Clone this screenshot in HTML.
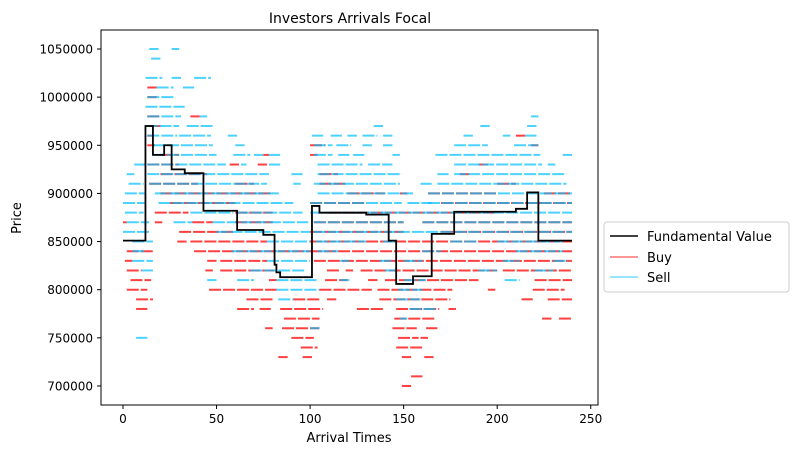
<!DOCTYPE html>
<html><head><meta charset="utf-8">
<style>
body{margin:0;background:#fff;width:798px;height:455px;overflow:hidden;font-family:"Liberation Sans","DejaVu Sans",sans-serif;}
svg text{font-family:"DejaVu Sans","Liberation Sans",sans-serif;}
</style></head>
<body>
<svg id="chart" width="798" height="455" xmlns="http://www.w3.org/2000/svg">
<text x="350" y="23" font-size="14" text-anchor="middle" fill="#000">Investors Arrivals Focal</text>
<g id="marks"></g>
<rect x="101" y="30" width="497" height="375" fill="none" stroke="#000" stroke-width="1"/>
<g id="axes"></g>
<text x="349" y="442" font-size="13" text-anchor="middle">Arrival Times</text>
<text x="21" y="218" font-size="13" text-anchor="middle" transform="rotate(-90 21 218)">Price</text>
<g>
<rect x="604" y="222" width="185" height="70" rx="3" fill="#fff" stroke="#ccc"/>
<line x1="610" y1="236" x2="638" y2="236" stroke="#000" stroke-width="1.6"/>
<text x="647" y="241" font-size="13">Fundamental Value</text>
<line x1="610" y1="257" x2="638" y2="257" stroke="#f00" stroke-opacity="0.55" stroke-width="1.4"/>
<text x="647" y="262" font-size="13">Buy</text>
<line x1="610" y1="277" x2="638" y2="277" stroke="#00bfff" stroke-opacity="0.55" stroke-width="1.4"/>
<text x="647" y="282" font-size="13">Sell</text>
</g>
</svg>
<script>
const xTicks=[0,50,100,150,200,250];
const yTicks=[700000,750000,800000,850000,900000,950000,1000000,1050000];
const fvTimes=[0,12,16,22,26,33,43,61,75,81,82,84,101,105,130,142,146,155,165,177,210,216,222,240];
const fvValues=[851000,970000,940000,950000,925000,921000,882000,862000,857000,826000,818000,813000,887000,880000,878000,851000,806000,814000,858000,881000,884000,901000,851000,851000];
const levels=[1050000,1040000,1020000,1010000,1000000,990000,980000,970000,960000,950000,940000,930000,920000,910000,900000,890000,880000,870000,860000,850000,840000,830000,820000,810000,800000,790000,780000,770000,760000,750000,740000,730000,710000,700000];
const sellRanges=[
[[14,19],[26,30]],
[[15,20]],
[[12,21],[26,31],[38,47]],
[[18,27],[32,38]],
[[13,28]],
[[12,33]],
[[13,31],[41,45],[218,222]],
[[12,30],[34,48],[134,139],[191,196],[216,221]],
[[13,29],[30,47],[56,61],[101,107],[111,117],[120,125],[128,136],[139,144],[182,187],[203,207],[215,221]],
[[16,48],[60,65],[102,112],[114,122],[128,133],[139,144],[177,195],[209,222]],
[[16,50],[59,68],[70,75],[78,84],[102,112],[115,121],[123,129],[144,148],[167,223],[235,240]],
[[6,12],[13,55],[63,66],[78,84],[104,128],[131,144],[177,224],[227,231]],
[[2,6],[13,78],[90,96],[104,149],[168,174],[177,237]],
[[3,11],[14,77],[91,95],[102,148],[159,165],[168,237]],
[[1,12],[17,84],[104,155],[163,240]],
[[0,12],[19,91],[100,149],[152,165],[163,240]],
[[1,11],[36,59],[61,96],[100,240]],
[[2,14],[27,37],[48,99],[102,150],[160,240]],
[[0,15],[50,100],[102,240]],
[[5,16],[77,100],[103,130],[139,146],[175,190],[200,235]],
[[5,12],[58,100],[104,115],[160,170],[210,235]],
[[5,16],[77,100],[116,121],[137,144],[150,160],[203,212],[230,238]],
[[10,16],[68,98],[140,147],[190,200],[220,230]],
[[45,50],[61,70],[82,104],[116,121],[150,162],[204,212]],
[[82,105],[147,160]],
[[83,91],[146,159]],
[[153,168]],
[[148,152]],
[[100,105]],
[[7,13]],
[],[],[],[]
];
const buyRanges=[
[],[],[],
[[13,18]],
[[13,18]],
[],
[[13,20],[36,41]],
[[14,20]],
[[13,16],[210,215]],
[[13,17],[100,108],[218,222]],
[[20,30],[75,78],[100,104]],
[[13,30],[57,62],[72,77],[190,195]],
[[20,45],[105,115],[180,185]],
[[14,40],[60,70],[105,120],[200,210]],
[[20,80],[120,140],[148,152],[163,200],[225,240]],
[[25,60],[100,130],[170,240]],
[[17,35],[60,80],[110,200]],
[[0,2],[17,21],[37,48],[60,80],[102,150],[160,240]],
[[30,60],[100,150],[170,240]],
[[29,34],[36,77],[100,240]],
[[2,16],[38,100],[100,240]],
[[1,5],[45,50],[52,77],[102,240]],
[[2,10],[44,48],[52,82],[109,116],[119,123],[127,200],[203,240]],
[[4,15],[78,82],[108,120],[131,136],[140,190],[220,240]],
[[2,13],[46,82],[105,133],[136,176],[195,199],[219,236]],
[[7,16],[66,80],[91,105],[109,114],[137,175],[213,219],[227,240]],
[[7,13],[61,70],[73,79],[84,107],[125,139],[146,169],[174,178]],
[[86,105],[145,167],[224,229],[233,240]],
[[76,80],[85,105],[144,157],[162,168]],
[[90,102],[147,158],[159,163]],
[[95,104],[146,160]],
[[83,88],[96,101],[149,154],[161,166]],
[[154,160]],
[[149,154]]
];
const NS="http://www.w3.org/2000/svg";
function xs(t){return 123+t*1.871;}
function ys(p){return 49+(1050000-p)/50000*48.14;}
const marks=document.getElementById('marks');
const axes=document.getElementById('axes');
function mk(tag,attrs,parent){const e=document.createElementNS(NS,tag);for(const k in attrs)e.setAttribute(k,attrs[k]);parent.appendChild(e);return e;}
function drawRanges(ranges,color,op,name){
  levels.forEach((p,i)=>{(ranges[i]||[]).forEach(r=>{
    const l=mk('line',{x1:xs(r[0]),x2:xs(r[1]),y1:ys(p),y2:ys(p),stroke:color,'stroke-opacity':op,'stroke-width':2,'stroke-dasharray':'12 2'},marks);
    
    
  });});
}
drawRanges(buyRanges,'#ff0000',0.75,'buy-order');
drawRanges(sellRanges,'#00bfff',0.7,'sell-order');
let d='';
for(let i=0;i<fvTimes.length;i++){
  const x=xs(fvTimes[i]),y=ys(fvValues[i]);
  if(i===0)d+='M'+x+' '+y;else{d+=' H'+x+' V'+y;}
}
const fv=mk('path',{d:d,fill:'none',stroke:'#000','stroke-width':1.8},marks);


xTicks.forEach(t=>{
  const x=xs(t);
  const tk=mk('line',{x1:x,x2:x,y1:405,y2:409,stroke:'#000'},axes);
  
  
  const tx=mk('text',{x:x,y:423,'font-size':12,'text-anchor':'middle'},axes);
  tx.textContent=t;
  
  
});
yTicks.forEach(v=>{
  const y=ys(v);
  const tk=mk('line',{x1:97,x2:101,y1:y,y2:y,stroke:'#000'},axes);
  
  
  const tx=mk('text',{x:93,y:y+4.5,'font-size':12,'text-anchor':'end'},axes);
  tx.textContent=v;
  
  
});
</script>
</body></html>
